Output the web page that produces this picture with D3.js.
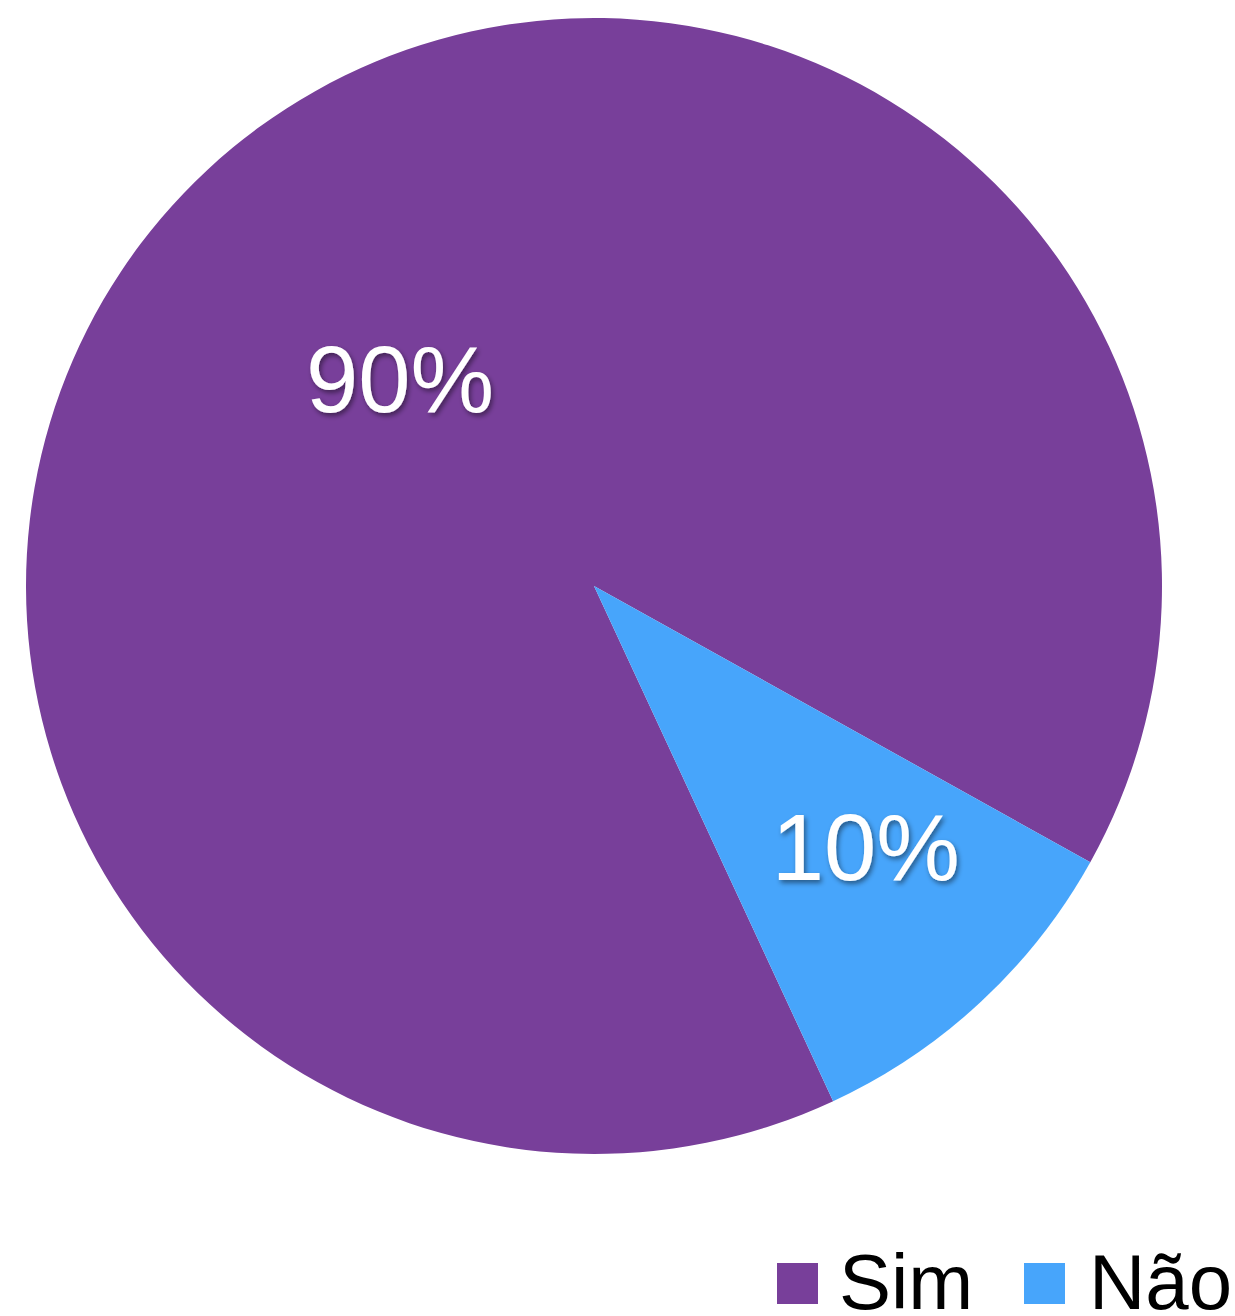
<!DOCTYPE html>
<html><head><meta charset="utf-8">
<script src="https://cdn.jsdelivr.net/npm/d3@7"></script>
<style>html,body{margin:0;padding:0;background:#fff;}</style>
</head><body>
<svg id="chart" width="1235" height="1316"></svg>
<script>
const categories = ["Sim", "Não"];
const values = [90, 10];
const labels = ["90%", "10%"];
const colors = ["#783F9A", "#47A5FB"];

const svg = d3.select("#chart");
const cx = 594, cy = 586, R = 568;
const startDeg = 155.1;

const defs = svg.append("defs");
const f = defs.append("filter").attr("id","sh").attr("x","-20%").attr("y","-20%").attr("width","140%").attr("height","140%");
f.append("feDropShadow").attr("dx",2).attr("dy",3).attr("stdDeviation",2.5).attr("flood-color","#000").attr("flood-opacity",0.45);

const pie = d3.pie().sort(null).value(d => d)
  .startAngle(startDeg*Math.PI/180).endAngle(startDeg*Math.PI/180 + 2*Math.PI);
const arcs = pie(values);
const arc = d3.arc().innerRadius(0).outerRadius(R);
const color = d3.scaleOrdinal().domain(categories).range(colors);

const g = svg.append("g").attr("transform", `translate(${cx},${cy})`);
g.selectAll("path").data(arcs).join("path")
  .attr("d", arc).attr("fill", (d,i) => color(categories[i]));

const labelFrac = [0.5, 0.662];
const labelShift = [-0.2, -3.4];
g.selectAll("text.lbl").data(arcs).join("text").attr("class","lbl")
  .each(function(d,i){
    const a = (d.startAngle + d.endAngle)/2 + labelShift[i]*Math.PI/180;
    const r = R*labelFrac[i];
    d3.select(this).attr("x", r*Math.sin(a)).attr("y", -r*Math.cos(a));
  })
  .attr("text-anchor","middle").attr("dy","0.36em")
  .attr("font-family","'Liberation Sans', Arial, Helvetica, sans-serif")
  .attr("font-size", 94).attr("fill","#fff").attr("filter","url(#sh)")
  .text((d,i) => labels[i]);

// legend
const legend = svg.append("g").attr("font-family","'Liberation Sans', Arial, Helvetica, sans-serif");
const legX = [777, 1024];
categories.forEach((c,i) => {
  const lg = legend.append("g").attr("transform", `translate(${legX[i]},1263)`);
  lg.append("rect").attr("width",41).attr("height",41).attr("fill", color(c));
  lg.append("text").attr("x", i===0 ? 62 : 65).attr("y", 46).attr("font-size", 78).attr("fill","#000").text(c);
});
</script>
</body></html>
